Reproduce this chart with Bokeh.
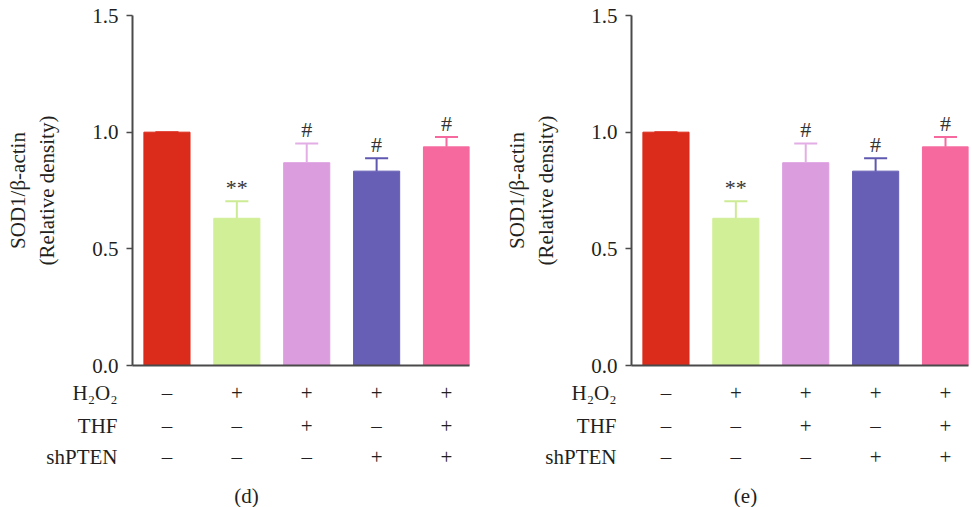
from bokeh.plotting import figure
from bokeh.layouts import row, column
from bokeh.models import ColumnDataSource, FixedTicker, PrintfTickFormatter, Range1d
from bokeh.embed import file_html
from bokeh.resources import INLINE
from bokeh.core.properties import value

# ---------------- data ----------------
groups = [0, 1, 2, 3, 4]
values = [1.0, 0.631, 0.869, 0.833, 0.937]
errors = [0.0, 0.073, 0.082, 0.055, 0.042]
marks = ["", "**", "#", "#", "#"]
bar_colors = ["#DB2B1B", "#D1EF97", "#DC9DDF", "#665FB5", "#F5699E"]
err_colors = ["#DB2B1B", "#CDEB95", "#E3AEE6", "#5F58B0", "#F5699E"]
row_names = ["H₂O₂", "THF", "shPTEN"]
h2o2 = ["–", "+", "+", "+", "+"]
thf = ["–", "–", "+", "–", "+"]
shpten = ["–", "–", "–", "+", "+"]
y_ticks = [0.0, 0.5, 1.0, 1.5]
panel_labels = ["(d)", "(e)"]
y_title = "SOD1/β-actin\n(Relative density)"

FONT = "Liberation Serif"
TXT = "#231f20"
AX = "#4a4a4a"
FS = "21px"

X0, X1 = -0.493, 4.329
Y0, Y1 = 0.0, 1.5
BORDER_L = 132
FRAME_W, FRAME_H = 337, 350
TOP_H = 380            # bar figure height
BOT_H = 507 - TOP_H    # table figure height
PX_X = FRAME_W / (X1 - X0)
PX_Y = FRAME_H / (Y1 - Y0)


def bar_panel(width):
    p = figure(width=width, height=TOP_H, output_backend="svg", toolbar_location=None,
               x_range=Range1d(X0, X1), y_range=Range1d(Y0, Y1),
               min_border_left=BORDER_L, min_border_right=width - BORDER_L - FRAME_W,
               min_border_top=15, min_border_bottom=15,
               frame_width=FRAME_W, frame_height=FRAME_H)
    p.outline_line_color = None
    p.xgrid.grid_line_color = None
    p.ygrid.grid_line_color = None

    tops = [v + e for v, e in zip(values, errors)]
    pad = 7 / PX_Y
    src = ColumnDataSource(dict(x=groups, top=values, err_top=tops, color=bar_colors,
                                ecolor=err_colors, mark=marks,
                                mark_y=[t + pad for t in tops],
                                cl=[g - 0.165 for g in groups],
                                cr=[g + 0.165 for g in groups]))
    p.vbar(x="x", top="top", width=0.66, source=src, fill_color="color",
           line_color="color", line_width=1)
    p.segment(x0="x", y0="top", x1="x", y1="err_top", source=src,
              line_color="ecolor", line_width=2)
    p.segment(x0="cl", y0="err_top", x1="cr", y1="err_top", source=src,
              line_color="ecolor", line_width=2)
    p.text(x="x", y="mark_y", text="mark", source=src, text_align="center",
           text_baseline="alphabetic", y_offset=-7, text_font=value(FONT),
           text_font_size="22px", text_color="#333333")

    p.yaxis.ticker = FixedTicker(ticks=y_ticks)
    p.yaxis.formatter = PrintfTickFormatter(format="%.1f")
    p.yaxis.minor_tick_line_color = None
    p.yaxis.major_tick_in = 0
    p.yaxis.major_tick_out = 6
    p.yaxis.major_tick_line_width = 1.5
    p.yaxis.major_tick_line_color = AX
    p.yaxis.axis_line_width = 2
    p.yaxis.axis_line_color = AX
    p.yaxis.major_label_text_font = FONT
    p.yaxis.major_label_text_font_size = FS
    p.yaxis.major_label_text_color = TXT
    p.yaxis.major_label_standoff = 8
    p.yaxis.axis_label = y_title
    p.yaxis.axis_label_text_font = FONT
    p.yaxis.axis_label_text_font_size = FS
    p.yaxis.axis_label_text_font_style = "normal"
    p.yaxis.axis_label_text_color = TXT
    p.yaxis.axis_label_standoff = 30

    p.xaxis.ticker = FixedTicker(ticks=[])
    p.xaxis.minor_tick_line_color = None
    p.xaxis.major_tick_line_color = None
    p.xaxis.major_label_text_font_size = "0px"
    p.xaxis.axis_line_width = 2
    p.xaxis.axis_line_color = AX
    return p


def table_panel(width, panel_label):
    # same frame and horizontal scale as the bar panel; y is pixels from the top
    row_y = [12, 45, 76]
    t = figure(width=width, height=BOT_H, output_backend="svg", toolbar_location=None,
               x_range=Range1d(X0, X1), y_range=Range1d(BOT_H, 0), x_axis_type=None,
               min_border_left=BORDER_L, min_border_right=width - BORDER_L - FRAME_W,
               min_border_top=0, min_border_bottom=0,
               frame_width=FRAME_W, frame_height=BOT_H)
    t.outline_line_color = None
    t.xgrid.grid_line_color = None
    t.ygrid.grid_line_color = None
    # row names are the labels of the table's own left axis
    t.yaxis.ticker = FixedTicker(ticks=row_y)
    t.yaxis.major_label_overrides = {y: n for y, n in zip(row_y, row_names)}
    t.yaxis.axis_line_color = None
    t.yaxis.major_tick_line_color = None
    t.yaxis.minor_tick_line_color = None
    t.yaxis.major_tick_in = 0
    t.yaxis.major_tick_out = 0
    t.yaxis.major_label_standoff = 15
    t.yaxis.major_label_text_font = FONT
    t.yaxis.major_label_text_font_size = FS
    t.yaxis.major_label_text_color = TXT
    for signs, yy in zip([h2o2, thf, shpten], row_y):
        s = ColumnDataSource(dict(x=groups, y=[yy] * len(groups), t=signs))
        t.text(x="x", y="y", text="t", source=s, text_align="center",
               text_baseline="middle", text_font=value(FONT),
               text_font_size=FS, text_color=TXT)
    t.text(x=[X0 + 114 / PX_X], y=[115], text=[panel_label], text_align="center",
           text_baseline="middle", text_font=value(FONT),
           text_font_size=FS, text_color=TXT)
    return t


W_LEFT = 499
W_RIGHT = 972 - W_LEFT
left = column(bar_panel(W_LEFT), table_panel(W_LEFT, panel_labels[0]), spacing=0)
right = column(bar_panel(W_RIGHT), table_panel(W_RIGHT, panel_labels[1]), spacing=0)
layout = row(left, right, spacing=0)

open("out.html", "w").write(file_html(layout, INLINE))
